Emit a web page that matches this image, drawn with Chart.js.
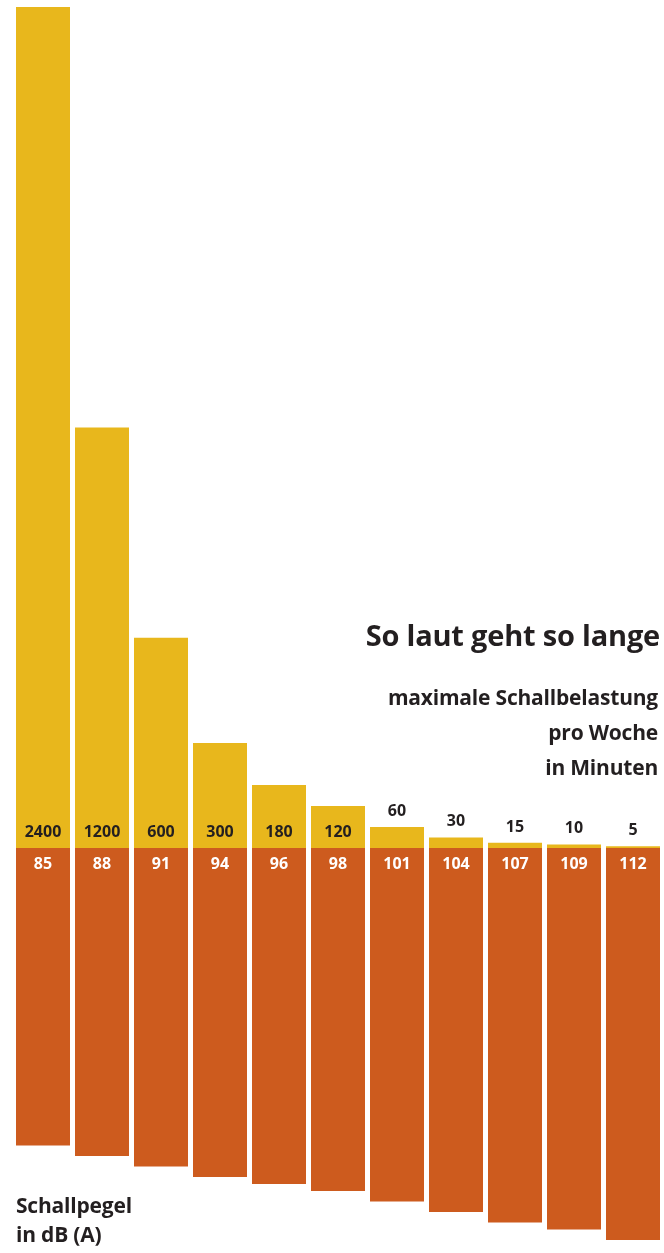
<!DOCTYPE html>
<html lang="de">
<head>
<meta charset="utf-8">
<title>So laut geht so lange</title>
<script src="https://cdn.jsdelivr.net/npm/chart.js@4/dist/chart.umd.min.js"></script>
<style>
  html, body { margin: 0; padding: 0; background: #ffffff; }
  #wrap { position: relative; width: 664px; height: 1253px; overflow: hidden; }
  #chart { position: absolute; left: 0; top: 0; }
  .txt { position: absolute; font-family: "Open Sans", Lato, sans-serif; font-weight: 700;
         color: #231f20; white-space: nowrap; }
  #title { right: 4px; top: 617px; font-size: 29px; line-height: 36px; letter-spacing: -0.2px; }
  #sub { right: 6px; top: 680px; font-size: 21px; line-height: 35px; text-align: right; letter-spacing: -0.2px; }
  #unit { left: 16px; top: 1191px; font-size: 21px; line-height: 29px; letter-spacing: -0.2px; }
</style>
</head>
<body>
<div id="wrap">
  <canvas id="chart" width="664" height="1253"></canvas>
  <div class="txt" id="title">So laut geht so lange</div>
  <div class="txt" id="sub">maximale Schallbelastung<br>pro Woche<br>in Minuten</div>
  <div class="txt" id="unit">Schallpegel<br>in dB (A)</div>
</div>
<script>
// Schallpegel (dB(A)) and the matching weekly exposure limit in minutes
const pegelLabels = ['85', '88', '91', '94', '96', '98', '101', '104', '107', '109', '112'];
const pegelDb     = [85, 88, 91, 94, 96, 98, 101, 104, 107, 109, 112];
const minutenProWoche = [2400, 1200, 600, 300, 180, 120, 60, 30, 15, 10, 5];

const GELB = '#e8b71c';
const ORANGE = '#cd5b1e';

// plot geometry: shared zero line, minutes grow upward, decibels grow downward
const ZERO_Y = 848, TOP_Y = 7, BOTTOM_Y = 1250;
const minutePx = (ZERO_Y - TOP_Y) / Math.max(...minutenProWoche);
const dbPx = 3.5;

// value labels: minutes sit inside tall yellow bars or just above short ones,
// decibels sit inside the orange bar right under the zero line
const wertLabels = {
  id: 'wertLabels',
  afterDatasetsDraw(chart) {
    const ctx = chart.ctx;
    const zero = chart.scales.yMin.getPixelForValue(0);
    ctx.save();
    ctx.textAlign = 'center';
    ctx.textBaseline = 'alphabetic';
    ctx.font = '700 16px "Open Sans", Lato, sans-serif';

    const minMeta = chart.getDatasetMeta(0);
    minMeta.data.forEach((bar, i) => {
      const inside = zero - bar.y > 30;
      const y = inside ? zero - 11.5 : bar.y - 11;
      ctx.fillStyle = '#231f20';
      ctx.fillText(String(minutenProWoche[i]), bar.x, y);
    });

    const dbMeta = chart.getDatasetMeta(1);
    dbMeta.data.forEach((bar, i) => {
      ctx.fillStyle = '#ffffff';
      ctx.fillText(String(pegelDb[i]), bar.x, zero + 20.5);
    });
    ctx.restore();
  }
};

new Chart(document.getElementById('chart'), {
  type: 'bar',
  data: {
    labels: pegelLabels,
    datasets: [
      {
        label: 'maximale Schallbelastung pro Woche in Minuten',
        data: minutenProWoche,
        yAxisID: 'yMin',
        backgroundColor: GELB
      },
      {
        label: 'Schallpegel in dB (A)',
        data: pegelDb,
        yAxisID: 'yDb',
        backgroundColor: ORANGE
      }
    ]
  },
  options: {
    responsive: false,
    animation: false,
    devicePixelRatio: 1,
    layout: { padding: { left: 13.5, right: 1.5, top: TOP_Y, bottom: 1253 - BOTTOM_Y } },
    datasets: {
      bar: {
        grouped: false,
        categoryPercentage: 1,
        barPercentage: 54 / 59,
        borderWidth: 0
      }
    },
    scales: {
      x: { display: false, offset: true },
      yMin: {
        display: false,
        position: 'left',
        min: -(BOTTOM_Y - ZERO_Y) / minutePx,
        max: Math.max(...minutenProWoche)
      },
      yDb: {
        display: false,
        position: 'right',
        reverse: true,
        min: -(ZERO_Y - TOP_Y) / dbPx,
        max: (BOTTOM_Y - ZERO_Y) / dbPx
      }
    },
    plugins: {
      legend: { display: false },
      tooltip: { enabled: false },
      title: { display: false }
    }
  },
  plugins: [wertLabels]
});
</script>
</body>
</html>
